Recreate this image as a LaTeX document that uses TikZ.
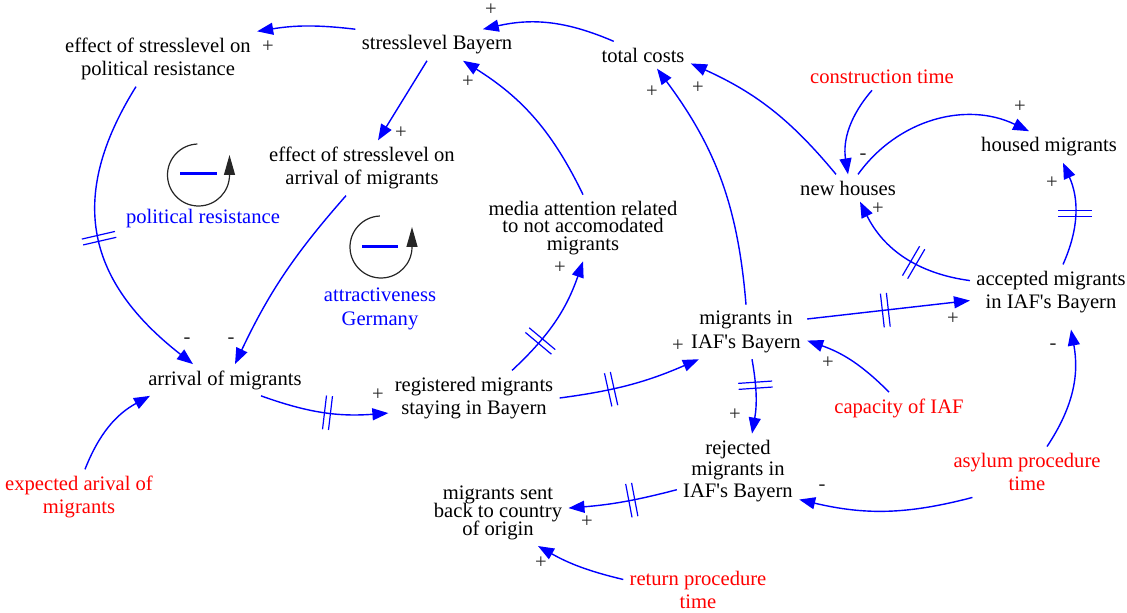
\documentclass[tikz,border=0pt]{standalone}
\usepackage{fontspec}
\setmainfont{Liberation Serif}
\usetikzlibrary{arrows.meta,decorations.markings}
\newcommand\cldfont{\fontsize{10.3}{11.8}\selectfont}
\tikzset{
  var/.style={align=center, inner sep=3pt, font=\cldfont},
  ext/.style={var, text=red},
  loopname/.style={var, text=blue},
  sign/.style={inner sep=0pt, font=\cldfont, text=black!85},
  link/.style={draw=blue, line width=0.7pt, -{Triangle[length=8pt,width=6pt]}},
  delay/.style={postaction={decorate, decoration={markings, mark=at position #1 with
    {\draw[blue, line width=0.6pt, -] (-1.5pt,-8.5pt) -- (-1.5pt,8.5pt) (1.5pt,-8.5pt) -- (1.5pt,8.5pt);}}}},
  loopsym/.style={black!85, line width=0.6pt, -{Triangle[length=10pt,width=5.5pt]}}
}
\begin{document}
\begin{tikzpicture}[x=0.5pt, y=0.5pt]
\useasboundingbox (0,0) rectangle (1127,-613);

% variables
\node[var] (stress) at (437,-45) {stresslevel Bayern};
\node[var] (effpol) at (158,-59) {effect of stresslevel on\\political resistance};
\node[var] (totc) at (643,-55) {total costs};
\node[ext] (ctime) at (882,-77) {construction time};
\node[var] (housed) at (1049,-147) {housed migrants};
\node[var] (newh) at (848,-188) {new houses};
\node[var] (effarr) at (362,-168) {effect of stresslevel on\\arrival of migrants};
\node[var] (media) at (583,-228) {media attention related\\[-3pt]to not accomodated\\[-3pt]migrants};
\node[var] (arr) at (225,-380) {arrival of migrants};
\node[var] (reg) at (474,-398) {registered migrants\\staying in Bayern};
\node[var] (miaf) at (746,-332) {migrants in\\IAF\textquotesingle s Bayern};
\node[var] (acc) at (1051,-292) {accepted migrants\\in IAF\textquotesingle s Bayern};
\node[ext] (cap) at (899,-408) {capacity of IAF};
\node[var] (rej) at (738,-471) {rejected\\[-1pt]migrants in\\[-1pt]IAF\textquotesingle s Bayern};
\node[ext] (asyl) at (1027,-472) {asylum procedure\\time};
\node[var] (sent) at (498,-513) {migrants sent\\[-3pt]back to country\\[-3pt]of origin};
\node[ext] (ret) at (698,-590) {return procedure\\time};
\node[ext] (exp) at (79,-497) {expected arival of\\migrants};

% loops
\draw[loopsym] (198.5,-175) ++(92:31) arc[start angle=92, end angle=360, radius=31] -- ++(0,20);
\draw[blue, line width=1.5pt] (180,-174) -- (217,-174);
\node[loopname] (lpol) at (203,-219) {political resistance};
\draw[loopsym] (381,-247) ++(92:31) arc[start angle=92, end angle=360, radius=31] -- ++(0,20);
\draw[blue, line width=1.5pt] (362,-247) -- (398,-247);
\node[loopname] (lattr) at (380,-309) {attractiveness\\Germany};

% links
\draw[link] (stress.north west) to[bend right=8] (effpol.north east);
\draw[link] (totc.155) to[bend right=18] (stress.19);
\draw[link] ([xshift=-5pt]stress.south) -- ([xshift=8pt]effarr.north);
\draw[link] (media.north) to[bend right=16] ([xshift=13pt]stress.south);
\draw[link] (miaf.north) to[bend right=16] ([xshift=7pt]totc.south);
\draw[link] ([xshift=-6pt]newh.north) to[bend right=13] (totc.-10);
\draw[link] ([xshift=-5pt]ctime.south) to[bend right=25] (newh.north);
\draw[link] ([xshift=5pt]newh.north) to[bend left=40] ([xshift=-10pt]housed.north);
\draw[link, delay=0.5] ([xshift=6pt]acc.north) to[bend right=24] ([xshift=7pt]housed.south);
\draw[link, delay=0.42] (acc.172) to[bend left=28] ([xshift=6pt]newh.south);
\draw[link, delay=0.48] (miaf.12) -- (acc.-174);
\draw[link] ([xshift=-5pt]cap.north) to[bend right=13] (miaf.-8);
\draw[link] ([xshift=10pt]asyl.north) to[bend right=22] ([xshift=10pt,yshift=-5pt]acc.south);
\draw[link] (asyl.-155) to[bend left=14] (rej.-25);
\draw[link, delay=0.35] ([xshift=3pt]miaf.south) to[bend left=10] ([xshift=7pt]rej.north);
\draw[link, delay=0.42] (rej.197) to[bend left=5] (sent.4);
\draw[link] (ret.172) to[bend left=8] ([xshift=20pt]sent.south);
\draw[link] ([xshift=3pt]exp.north) to[bend left=20] ([xshift=4pt]arr.south west);
\draw[link, delay=0.5] ([xshift=-11pt]effpol.south) to[out=-122, in=142, looseness=1.2] ([xshift=-16pt]arr.north);
\draw[link] ([xshift=-8pt]effarr.south) to[bend right=8] ([xshift=5pt]arr.north);
\draw[link, delay=0.53] ([xshift=18pt]arr.south) to[bend right=12] (reg.-170);
\draw[link, delay=0.31] ([xshift=19pt]reg.north) to[bend right=14] (media.south);
\draw[link, delay=0.36] (reg.east) to[bend right=8] ([xshift=7pt]miaf.south west);

% polarities
\foreach \px/\py/\sgn [count=\i] in {268/47/+, 491/10/+, 401/133/+, 468/82/+, 652/92/+,
    698/88/+, 863/157/-, 1020/107/+, 1052/183/+, 878/209/+, 953/319/+, 828/363/+,
    1053/347/-, 822/488/-, 735/415/+, 587/522/+, 541/563/+, 187/341/-, 231/341/-,
    378/395/+, 560/268/+, 678/346/+}
  \node[sign] (sg\i) at (\px,-\py) {\sgn};
\end{tikzpicture}
\end{document}
